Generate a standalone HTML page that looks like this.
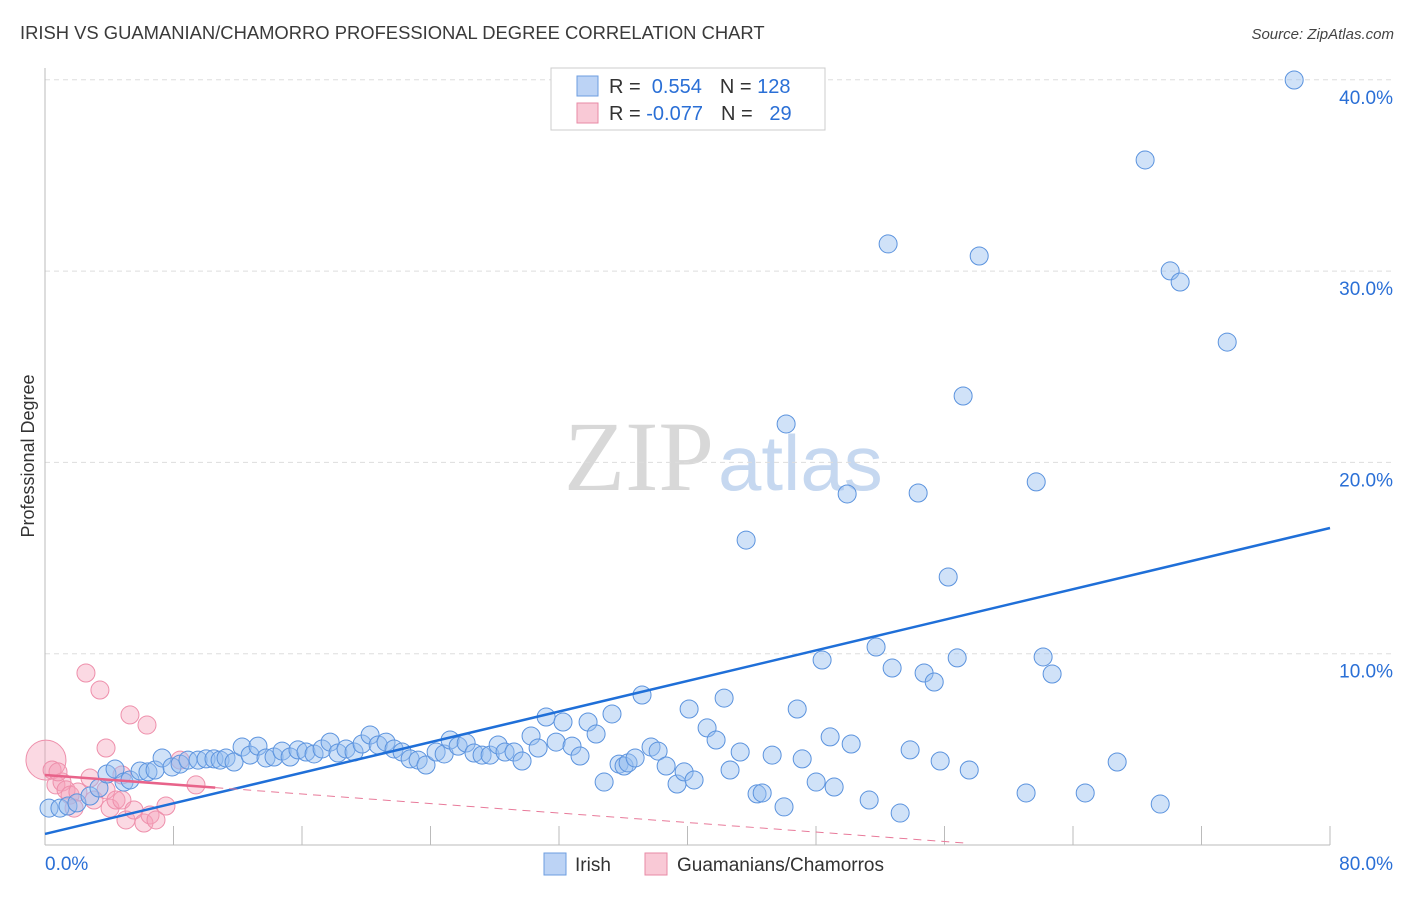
<!DOCTYPE html>
<html><head><meta charset="utf-8">
<style>
body{margin:0;background:#fff;font-family:"Liberation Sans",sans-serif;}
</style></head>
<body>
<svg id="chart" width="1406" height="892" viewBox="0 0 1406 892" xmlns="http://www.w3.org/2000/svg" font-family="Liberation Sans, sans-serif">
<text x="20" y="39" font-size="18.4" fill="#3a3a3a">IRISH VS GUAMANIAN/CHAMORRO PROFESSIONAL DEGREE CORRELATION CHART</text>
<text x="1394" y="39" font-size="15" fill="#444" text-anchor="end" font-style="italic">Source: ZipAtlas.com</text>
<text x="714" y="490" font-size="100" text-anchor="end" fill="#d8d8d8" style="font-family:'Liberation Serif',serif">ZIP</text>
<text x="718" y="490" font-size="78" fill="#c6d8f0">atlas</text>
<text transform="translate(34,456) rotate(-90)" font-size="18" fill="#333" text-anchor="middle">Professional Degree</text>
<g id="grid"></g>
<g id="axes"></g>
<g id="pink-pts"></g>
<g id="blue-pts"></g>
<g id="trends"></g>
<g>
<rect x="551" y="68" width="274" height="62" fill="#fff" stroke="#ccc"/>
<rect x="577" y="76" width="21" height="20" fill="#bcd3f5" stroke="#6d9ee0"/>
<rect x="577" y="103" width="21" height="20" fill="#f9c9d6" stroke="#e88aa6"/>
<text x="609" y="93" font-size="20" fill="#333">R = <tspan fill="#2a6fd6">&#160;0.554</tspan><tspan dx="18">N = </tspan><tspan fill="#2a6fd6">128</tspan></text>
<text x="609" y="120" font-size="20" fill="#333">R = <tspan fill="#2a6fd6">-0.077</tspan><tspan dx="18">N = </tspan><tspan fill="#2a6fd6">&#160;&#160;29</tspan></text>
</g>
<g>
<rect x="544" y="853" width="22" height="22" fill="#bcd3f5" stroke="#6d9ee0"/>
<text x="575" y="871" font-size="19" fill="#333">Irish</text>
<rect x="645" y="853" width="22" height="22" fill="#f9c9d6" stroke="#e88aa6"/>
<text x="677" y="871" font-size="19" fill="#333">Guamanians/Chamorros</text>
</g>
</svg>
<script>
const xTicks=[0,10,20,30,40,50,60,70,80];
const yTicks=[10,20,30,40];
const blueX=[0.25,0.93,1.43,1.99,2.8,3.36,3.86,4.36,4.92,5.29,5.92,6.41,6.85,7.29,7.91,8.41,8.9,9.53,10.03,10.52,10.9,11.27,11.77,12.27,12.77,13.26,13.76,14.26,14.76,15.26,15.75,16.25,16.75,17.25,17.75,18.24,18.74,19.24,19.74,20.24,20.74,21.23,21.73,22.23,22.73,23.23,23.72,24.35,24.85,25.22,25.72,26.22,26.71,27.21,27.71,28.21,28.64,29.2,29.7,30.26,30.7,31.2,31.82,32.25,32.81,33.31,33.81,34.31,34.81,35.3,35.74,36.05,36.3,36.74,37.17,37.73,38.17,38.67,39.35,39.79,40.1,40.41,41.22,41.78,42.28,42.65,43.28,43.65,44.33,44.65,45.27,46.01,46.14,46.83,47.14,48.01,48.38,48.88,49.13,49.94,50.19,51.31,51.74,52.49,52.74,53.24,53.86,54.36,54.73,55.36,55.73,56.23,56.79,57.16,57.54,58.16,61.08,61.71,62.14,62.7,64.76,66.75,68.49,69.43,70.05,70.67,73.6,77.77];
const blueY=[1.93,1.93,2.04,2.2,2.56,2.98,3.71,3.97,3.29,3.4,3.87,3.82,3.92,4.55,4.08,4.23,4.44,4.44,4.5,4.5,4.44,4.55,4.34,5.12,4.7,5.17,4.55,4.6,4.91,4.6,4.97,4.86,4.76,5.02,5.38,4.81,5.02,4.86,5.28,5.75,5.23,5.38,5.02,4.86,4.5,4.44,4.18,4.86,4.76,5.49,5.17,5.33,4.81,4.7,4.7,5.23,4.86,4.86,4.39,5.7,5.07,6.69,5.38,6.43,5.17,4.65,6.43,5.8,3.29,6.85,4.23,4.13,4.29,4.55,7.84,5.12,4.91,4.13,3.19,3.82,7.11,3.4,6.12,5.49,7.68,3.92,4.86,15.94,2.67,2.72,4.7,1.99,22.01,7.11,4.5,3.29,9.67,5.65,3.03,18.35,5.28,2.35,10.35,31.42,9.25,1.67,4.97,18.4,8.99,8.52,4.39,14.01,9.78,23.47,3.92,30.79,2.72,18.98,9.83,8.94,2.72,4.34,35.81,2.14,30.01,29.43,26.29,39.99];
const pinkX=[0.06,0.44,0.68,1.06,1.31,1.56,1.81,2.05,2.55,2.8,3.05,3.42,3.8,4.05,4.42,4.79,3.8,5.04,5.29,5.54,6.16,6.35,6.54,6.91,7.53,8.41,9.4,4.79,0.81];
const pinkY=[4.44,3.92,3.14,3.29,2.88,2.61,1.93,2.77,8.99,3.5,2.35,8.1,2.88,1.93,2.35,2.35,5.07,1.31,6.8,1.83,1.15,6.27,1.57,1.31,2.04,4.44,3.14,3.66,3.82];
const pinkR=[20,9,9,9,9,9,9,9,9,9,9,9,9,9,9,9,9,9,9,9,9,9,9,9,9,9,9,9,9];
const blueTrend=[0.58,16.57];
const pinkTrend=[3.66,3.0,0.1];
const pinkTrendX=[0,10.6,57.3];

const X=v=>45+v*16.0625, Y=v=>845-v*19.13;
const NS="http://www.w3.org/2000/svg";
function mk(tag,attrs,parent){const e=document.createElementNS(NS,tag);for(const k in attrs)e.setAttribute(k,attrs[k]);parent.appendChild(e);return e;}
const grid=document.getElementById('grid'),axes=document.getElementById('axes');
yTicks.forEach(t=>{
 const l=mk('line',{x1:45,x2:1394,y1:Y(t),y2:Y(t),stroke:'#ddd','stroke-dasharray':'5,4'},grid);
 
 
 const tx=mk('text',{x:1393,y:Y(t)+24,'font-size':19,fill:'#2a6fd6','text-anchor':'end'},axes);
 tx.textContent=t.toFixed(1)+'%';
 
 
});
const ax=mk('line',{x1:45,x2:1330,y1:845,y2:845,stroke:'#bbb'},axes);


const ay=mk('line',{x1:45,x2:45,y1:68,y2:845,stroke:'#bbb'},axes);


for(let i=1;i<=10;i++){const tk=mk('line',{x1:X(i*8),x2:X(i*8),y1:826,y2:845,stroke:'#bbb'},axes);
 
 }
[[0,'0.0%','start',45],[80,'80.0%','end',1393]].forEach(d=>{
 const tx=mk('text',{x:d[3],y:870,'font-size':19,fill:'#2a6fd6','text-anchor':d[2]},axes);tx.textContent=d[1];
 
 
});
const pg=document.getElementById('pink-pts');
pinkX.forEach((v,i)=>{const c=mk('circle',{cx:X(v),cy:Y(pinkY[i]),r:pinkR[i],fill:'rgba(244,160,185,0.4)',stroke:'#ee8fab','stroke-width':1},pg);
 
 });
const bg=document.getElementById('blue-pts');
blueX.forEach((v,i)=>{const c=mk('circle',{cx:X(v),cy:Y(blueY[i]),r:9,fill:'rgba(150,190,240,0.45)',stroke:'#5b93de','stroke-width':1},bg);
 
 });
const tg=document.getElementById('trends');
const bt=mk('line',{x1:X(0),y1:Y(blueTrend[0]),x2:X(80),y2:Y(blueTrend[1]),stroke:'#1f6fd8','stroke-width':2.5},tg);


const pd=mk('line',{x1:X(pinkTrendX[1]),y1:Y(pinkTrend[1]),x2:X(pinkTrendX[2]),y2:Y(pinkTrend[2]),stroke:'#e87a9a','stroke-width':1,'stroke-dasharray':'8,6'},tg);


const ps=mk('line',{x1:X(pinkTrendX[0]),y1:Y(pinkTrend[0]),x2:X(pinkTrendX[1]),y2:Y(pinkTrend[1]),stroke:'#e8638a','stroke-width':2.5},tg);


</script>
</body></html>
